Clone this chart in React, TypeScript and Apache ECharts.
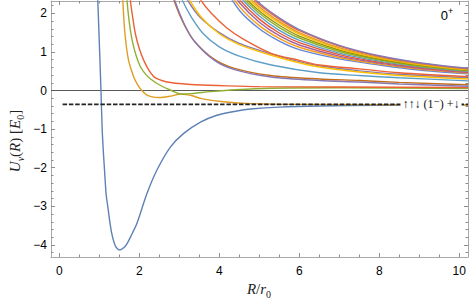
import React, { useEffect, useRef } from "react";
import * as echarts from "echarts";

// ---- axes ----
const xMajorTicks = [0, 2, 4, 6, 8, 10];
const yMajorTicks = [-4, -3, -2, -1, 0, 1, 2];
const xRange = [-0.21, 10.22];
const yRange = [-4.313, 2.319];

// ---- reference levels ----
const thresholdLevel = -0.36;
const thresholdStart = 0.08;
const zeroLevel = 0;

// ---- lowest potential curves (R, U) ----
const blueWell: [number, number][] = [
  [0.94, 3.0], [0.96, 2.35], [1.0, 1.2], [1.04, 0.0], [1.07, -1.0], [1.1, -1.6],
  [1.125, -2.0], [1.17, -2.7], [1.21, -3.0], [1.275, -3.5], [1.33, -3.8], [1.39, -4.0],
  [1.45, -4.1], [1.51, -4.13], [1.6, -4.08], [1.69, -3.97], [1.8, -3.75], [1.94, -3.44],
  [2.19, -2.67], [2.44, -2.06], [2.78, -1.46], [3.11, -1.11], [3.53, -0.82], [3.94, -0.64],
  [4.44, -0.53], [4.78, -0.48], [5.5, -0.43], [6.5, -0.4], [8, -0.38], [10.22, -0.37],
];
const orangeDip: [number, number][] = [
  [1.56, 3.0], [1.585, 2.35], [1.64, 1.47], [1.73, 0.78], [1.86, 0.35], [1.94, 0.18],
  [2.03, 0.04], [2.19, -0.12], [2.35, -0.17], [2.5, -0.18], [2.75, -0.15], [3.05, -0.09],
  [3.3, -0.13], [3.55, -0.21], [4.1, -0.29], [4.8, -0.34], [6, -0.36], [10.22, -0.37],
];
const greenDip: [number, number][] = [
  [1.66, 3.0], [1.69, 2.35], [1.75, 1.75], [1.82, 1.3], [1.92, 0.9], [2.03, 0.61],
  [2.15, 0.43], [2.28, 0.3], [2.53, 0.13], [2.8, 0.0], [3.05, -0.09], [3.3, -0.08],
  [3.78, -0.03], [4.4, 0.02], [5.3, 0.06], [7, 0.07], [10.22, 0.05],
];
const redFlat: [number, number][] = [
  [1.75, 3.0], [1.775, 2.35], [1.84, 1.85], [1.9, 1.47], [2.0, 1.08], [2.11, 0.78],
  [2.23, 0.54], [2.36, 0.36], [2.5, 0.28], [2.69, 0.22], [3.0, 0.18], [3.4, 0.15],
  [4.2, 0.12], [5.0, 0.1], [7, 0.09], [10.22, 0.08],
];

// ---- middle group ----
const brownMid: [number, number][] = [
  [2.72, 2.85], [2.86, 2.35], [3.1, 1.75], [3.36, 1.3], [3.86, 0.82], [4.36, 0.58],
  [5.28, 0.39], [6.5, 0.3], [7.5, 0.26], [8.5, 0.21], [10.22, 0.15],
];
const purpleLow: [number, number][] = [
  [2.74, 2.85], [2.88, 2.35], [3.12, 1.73], [3.38, 1.27], [3.88, 0.78], [4.38, 0.54],
  [5.3, 0.35], [6.5, 0.26], [7.5, 0.22], [8.5, 0.17], [10.22, 0.11],
];
const lightBlueMid: [number, number][] = [
  [2.9, 2.8], [3.07, 2.35], [3.3, 1.9], [3.6, 1.47], [4.0, 1.13], [4.5, 0.89],
  [5.3, 0.66], [6.5, 0.46], [7.5, 0.39], [8.5, 0.33], [10.22, 0.25],
];
const purpleMid: [number, number][] = [
  [3.0, 2.75], [3.2, 2.35], [3.5, 1.92], [4.0, 1.5], [4.5, 1.22], [5.28, 0.95],
  [6, 0.75], [6.5, 0.64], [7.5, 0.51], [8.5, 0.42], [10.22, 0.33],
];
const yellowMid: [number, number][] = [
  [3.05, 2.75], [3.25, 2.35], [3.55, 1.9], [4.0, 1.47], [4.5, 1.19], [5.28, 0.92],
  [6, 0.72], [6.5, 0.61], [7.5, 0.48], [8.5, 0.39], [10.22, 0.3],
];
const redMid: [number, number][] = [
  [3.3, 2.75], [3.53, 2.35], [3.8, 2.0], [4.19, 1.62], [4.6, 1.33], [5.28, 0.97],
  [6, 0.78], [6.5, 0.66], [7.5, 0.56], [8.5, 0.46], [10.22, 0.36],
];

// ---- upper cluster, sampled at shared R values ----
const clusterR = [4, 4.5, 5, 5.5, 6, 7, 8, 9, 10.22];
const cluster1 = [2.9, 2.08, 1.6, 1.28, 1.06, 0.82, 0.66, 0.53, 0.43];
const cluster2 = [2.95, 2.18, 1.68, 1.35, 1.12, 0.855, 0.685, 0.555, 0.45];
const cluster3 = [3.0, 2.28, 1.77, 1.42, 1.18, 0.89, 0.71, 0.575, 0.465];
const cluster4 = [3.05, 2.36, 1.85, 1.49, 1.24, 0.93, 0.735, 0.595, 0.48];
const cluster5 = [3.12, 2.44, 1.93, 1.56, 1.3, 0.97, 0.76, 0.615, 0.495];
const cluster6 = [3.2, 2.5, 2.0, 1.63, 1.36, 1.01, 0.79, 0.635, 0.51];
const cluster7 = [3.25, 2.56, 2.06, 1.69, 1.41, 1.05, 0.815, 0.655, 0.525];
const cluster8 = [3.33, 2.63, 2.12, 1.75, 1.46, 1.08, 0.84, 0.675, 0.54];
const cluster9 = [3.38, 2.68, 2.17, 1.79, 1.5, 1.11, 0.86, 0.69, 0.55];
const cluster10 = [3.45, 2.75, 2.23, 1.85, 1.55, 1.15, 0.885, 0.71, 0.565];
const cluster11 = [3.5, 2.79, 2.265, 1.88, 1.58, 1.17, 0.9, 0.72, 0.575];

const clusterColors = [
  "#6685D9", "#F89F13", "#A5609D", "#E95536", "#5D9EC7", "#8FB032",
  "#929600", "#FFBF00", "#E19C24", "#EB6235", "#8778B3",
];

const FONT_SANS = '"Liberation Sans", Arial, sans-serif';
const FONT_SERIF = '"Liberation Serif", "DejaVu Serif", serif';

const minus = (v: number) => (v < 0 ? "\u2212" + Math.abs(v) : String(v));

function minorList(lo: number, hi: number, step: number, skip: number[]) {
  const out: number[] = [];
  const n = Math.round((hi - lo) / step);
  for (let i = 0; i <= n; i++) {
    const v = Math.round((lo + i * step) * 1000) / 1000;
    if (!skip.includes(v)) out.push(v);
  }
  return out;
}

export default function App() {
  const ref = useRef<HTMLDivElement>(null);
  useEffect(() => {
    document.body.style.margin = "0";
    if (!ref.current) return;
    const chart = echarts.init(ref.current, undefined, { renderer: "svg" });

    const xMinor = minorList(0, 10, 0.5, xMajorTicks);
    const yMinor = minorList(-4.2, 2.2, 0.2, yMajorTicks);

    const axisColor = "#a9a9a9";
    const tickColor = "#8c8c8c";

    const mkX = (pos: "bottom" | "top", major: boolean) => ({
      type: "value",
      position: pos,
      min: xRange[0],
      max: xRange[1],
      axisLine: { show: major, onZero: false, lineStyle: { color: axisColor, width: 1 } },
      axisTick: {
        show: true,
        inside: true,
        length: major ? 4 : 2.5,
        customValues: major ? xMajorTicks : xMinor,
        lineStyle: { color: tickColor, width: 1 },
      },
      axisLabel: {
        show: major && pos === "bottom",
        customValues: xMajorTicks,
        formatter: minus,
        color: "#000",
        fontFamily: FONT_SANS,
        fontSize: 12,
        margin: 8,
      },
      splitLine: { show: false },
    });
    const mkY = (pos: "left" | "right", major: boolean) => ({
      type: "value",
      position: pos,
      min: yRange[0],
      max: yRange[1],
      axisLine: { show: major, onZero: false, lineStyle: { color: axisColor, width: 1 } },
      axisTick: {
        show: true,
        inside: true,
        length: major ? 4 : 2.5,
        customValues: major ? yMajorTicks : yMinor,
        lineStyle: { color: tickColor, width: 1 },
      },
      axisLabel: {
        show: major && pos === "left",
        customValues: yMajorTicks,
        formatter: minus,
        color: "#000",
        fontFamily: FONT_SANS,
        fontSize: 12,
        margin: 4,
      },
      splitLine: { show: false },
    });

    const curve = (data: [number, number][], color: string) => ({
      type: "line",
      data,
      showSymbol: false,
      symbol: "none",
      smooth: 0.3,
      clip: true,
      lineStyle: { color, width: 1.4 },
      silent: true,
    });

    const clusters = [
      cluster1, cluster2, cluster3, cluster4, cluster5, cluster6,
      cluster7, cluster8, cluster9, cluster10, cluster11,
    ];

    const series: any[] = [
      {
        type: "line",
        data: [[xRange[0], zeroLevel], [xRange[1], zeroLevel]],
        showSymbol: false,
        symbol: "none",
        lineStyle: { color: "#5a5a5a", width: 1 },
        silent: true,
      },
      curve(blueWell, "#5E81B5"),
      curve(orangeDip, "#E19C24"),
      curve(greenDip, "#8FB032"),
      curve(redFlat, "#EB6235"),
      curve(brownMid, "#C56E1A"),
      curve(purpleLow, "#8778B3"),
      curve(lightBlueMid, "#5D9EC7"),
      curve(purpleMid, "#8778B3"),
      curve(yellowMid, "#FFBF00"),
      curve(redMid, "#EB6235"),
      ...clusters.map((ys, i) =>
        curve(clusterR.map((r, j) => [r, ys[j]] as [number, number]), clusterColors[i])
      ),
      {
        type: "line",
        data: [[thresholdStart, thresholdLevel], [xRange[1], thresholdLevel]],
        showSymbol: false,
        symbol: "none",
        lineStyle: { color: "#222", width: 1.7, type: [4.5, 1.8] },
        silent: true,
      },
    ];

    chart.setOption({
      animation: false,
      grid: { left: 51, right: 1, top: 1, bottom: 48, containLabel: false },
      xAxis: [mkX("bottom", true), mkX("bottom", false), mkX("top", true), mkX("top", false)],
      yAxis: [mkY("left", true), mkY("left", false), mkY("right", true), mkY("right", false)],
      series,
      graphic: [
        {
          type: "text",
          x: 15,
          y: 141,
          rotation: Math.PI / 2,
          style: {
            text: "{i|U}{s|v}{n|(}{i|R}{n|) [}{i|E}{z|0}{n|]}",
            align: "center",
            verticalAlign: "middle",
            fill: "#222",
            rich: {
              i: { fontFamily: FONT_SERIF, fontStyle: "italic", fontSize: 15, lineHeight: 20 },
              n: { fontFamily: FONT_SERIF, fontSize: 15, lineHeight: 20 },
              s: { fontFamily: FONT_SERIF, fontStyle: "italic", fontSize: 10, lineHeight: 10, verticalAlign: "bottom" },
              z: { fontFamily: FONT_SERIF, fontSize: 10, lineHeight: 10, verticalAlign: "bottom" },
            },
          },
        },
        {
          type: "text",
          x: 259,
          y: 289,
          style: {
            text: "{i|R}{n|/}{i|r}{z|0}",
            align: "center",
            verticalAlign: "middle",
            fill: "#222",
            rich: {
              i: { fontFamily: FONT_SERIF, fontStyle: "italic", fontSize: 15, lineHeight: 20 },
              n: { fontFamily: FONT_SERIF, fontSize: 15, lineHeight: 20 },
              z: { fontFamily: FONT_SERIF, fontSize: 10, lineHeight: 10, verticalAlign: "bottom" },
            },
          },
        },
        {
          type: "text",
          x: 447,
          y: 15,
          style: {
            text: "{n|0}{p|+}",
            align: "center",
            verticalAlign: "middle",
            fill: "#000",
            rich: {
              n: { fontFamily: FONT_SANS, fontSize: 13, lineHeight: 18 },
              p: { fontFamily: FONT_SANS, fontSize: 9, lineHeight: 9, verticalAlign: "top" },
            },
          },
        },
        {
          type: "text",
          x: 431,
          y: 104,
          z: 100,
          style: {
            text: "\u2191\u2191\u2193 (1\u207B) +\u2193",
            align: "center",
            verticalAlign: "middle",
            fill: "#111",
            fontFamily: FONT_SERIF,
            fontSize: 12,
            backgroundColor: "#fff",
            padding: [2, 2, 2, 2],
          },
        },
      ],
    });
    return () => chart.dispose();
  }, []);
  return <div ref={ref} style={{ width: 469, height: 305 }} />;
}
